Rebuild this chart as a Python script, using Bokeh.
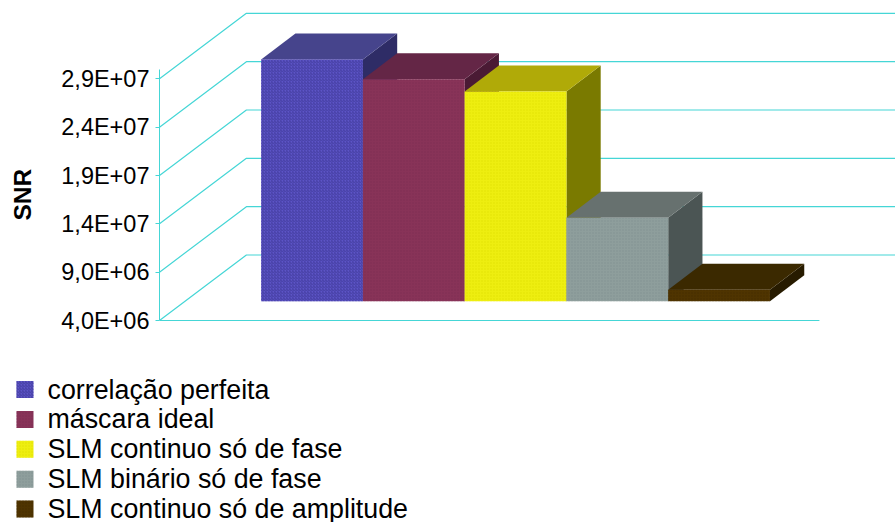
from bokeh.embed import file_html
from bokeh.layouts import column, row
from bokeh.models import ColumnDataSource, FixedTicker, LinearAxis, Range1d, Title
from bokeh.core.properties import value
from bokeh.plotting import figure
from bokeh.resources import INLINE

# Series shown as 3-D columns
series = ["correlação perfeita", "máscara ideal", "SLM continuo só de fase",
          "SLM binário só de fase", "SLM continuo só de amplitude"]
snr = [2.9e7, 2.697e7, 2.57e7, 1.263e7, 5.18e6]
front_colors = ["#5c54c6", "#883358", "#eeee10", "#8e9e9c", "#4f3400"]
top_colors = ["#46448c", "#642646", "#b0aa08", "#67716f", "#3b2900"]
side_colors = ["#2e2c66", "#4a1a34", "#7a7a00", "#4b5554", "#271b00"]
hatch_colors = ["#40389a", "#7a2a50", "#e0e000", "#7f8f8d", "#402a00"]
hatch_patterns = ["right_diagonal_line", "dot", "dot", "dot", "dot"]

tick_values = [4e6, 9e6, 1.4e7, 1.9e7, 2.4e7, 2.9e7]
tick_labels = ["4,0E+06", "9,0E+06", "1,4E+07", "1,9E+07", "2,4E+07", "2,9E+07"]

# Scale of the value axis and the oblique projection, in data units
PX_PER_SLOT = 101.9
PX_PER_VALUE = 48.33 / 5e6
WALL_DX, WALL_DY = 87 / PX_PER_SLOT, 65.5 / PX_PER_VALUE
BAR_DX, BAR_DY = 34.3 / PX_PER_SLOT, 26 / PX_PER_VALUE
FLOOR_LIFT = 19.3 / PX_PER_VALUE
AXIS_X = -101.8 / PX_PER_SLOT
FLOOR_END = 559 / PX_PER_SLOT
GRID = "#45d6d6"

CHART_H = 378
LEGEND_H = 522 - CHART_H
y_base = tick_values[0] - (CHART_H - 320) / PX_PER_VALUE

p = figure(width=895, height=CHART_H, output_backend="svg", toolbar_location=None,
           x_range=Range1d(AXIS_X, AXIS_X + 737 / PX_PER_SLOT),
           y_range=Range1d(y_base, y_base + CHART_H / PX_PER_VALUE),
           min_border_left=158, min_border_right=0, min_border_top=0,
           min_border_bottom=0, outline_line_color=None,
           background_fill_color="white", border_fill_color="white",
           x_axis_location=None, y_axis_location=None)
p.xgrid.visible = False
p.ygrid.visible = False

# Value axis
axis = LinearAxis(ticker=FixedTicker(ticks=tick_values),
                  major_label_overrides=dict(zip(tick_values, tick_labels)),
                  bounds=(tick_values[0], tick_values[-1] + 9 / PX_PER_VALUE),
                  major_label_text_font="Liberation Sans", major_label_text_font_size="23.5px",
                  major_label_text_color="black", major_label_standoff=6,
                  axis_line_color=GRID, major_tick_line_color=GRID,
                  major_tick_out=4, major_tick_in=0, minor_tick_line_color=None)
p.add_layout(axis, "left")

# A blank title holds the gap between the tick labels and the axis title
p.add_layout(Title(text=" ", standoff=4, text_font="Liberation Sans", text_font_size="10px"), "left")

# Axis title, placed along the left edge by its distance from the bottom
p.add_layout(Title(text="SNR", align="left", offset=158, standoff=12,
                   text_font="Liberation Sans", text_font_style="bold",
                   text_font_size="24.5px", text_color="black"), "left")

# Side wall and back wall rules, then the front edge of the floor
wall_xs = [[AXIS_X, AXIS_X + WALL_DX, AXIS_X + WALL_DX + FLOOR_END - AXIS_X] for _ in tick_values]
wall_ys = [[v, v + WALL_DY, v + WALL_DY] for v in tick_values]
p.multi_line(wall_xs, wall_ys, line_color=GRID, line_width=1.2)
p.line([AXIS_X, FLOOR_END], [tick_values[0], tick_values[0]], line_color=GRID, line_width=1.2)

# Columns: side face, top face, front face
floor = tick_values[0] + FLOOR_LIFT
for i, name in enumerate(series):
    top = snr[i] + FLOOR_LIFT
    p.patch([i + 1, i + 1 + BAR_DX, i + 1 + BAR_DX, i + 1],
            [floor, floor + BAR_DY, top + BAR_DY, top], fill_color=side_colors[i], line_color=None)
    p.patch([i, i + BAR_DX, i + 1 + BAR_DX, i + 1],
            [top, top + BAR_DY, top + BAR_DY, top], fill_color=top_colors[i], line_color=None)
    src = ColumnDataSource(dict(left=[i], right=[i + 1], bottom=[floor], top=[top]))
    p.quad(left="left", right="right", bottom="bottom", top="top", source=src,
           fill_color=front_colors[i], line_color=None,
           hatch_pattern=hatch_patterns[i], hatch_color=hatch_colors[i],
           hatch_scale=3, hatch_weight=1, hatch_alpha=0.8)

# Legend strip under the chart, laid out in page pixels
ROW_STEP = 29.9
FIRST_ROW = 389 - CHART_H
SWATCH = 17
SWATCH_LEFT = 16
LABEL_LEFT = 47

lg = figure(width=895, height=LEGEND_H, output_backend="svg", toolbar_location=None,
            x_range=Range1d(0, 895), y_range=Range1d(LEGEND_H, 0),
            min_border_left=0, min_border_right=0, min_border_top=0, min_border_bottom=0,
            outline_line_color=None, x_axis_location=None, y_axis_location=None)
lg.xgrid.visible = False
lg.ygrid.visible = False
rows = [FIRST_ROW + ROW_STEP * k for k in range(len(series))]
lg.quad(left=SWATCH_LEFT, right=SWATCH_LEFT + SWATCH,
        bottom=[r + SWATCH / 2 for r in rows], top=[r - SWATCH / 2 for r in rows],
        fill_color=front_colors, line_color=None,
        hatch_pattern=hatch_patterns, hatch_color=hatch_colors,
        hatch_scale=3, hatch_weight=1, hatch_alpha=0.8)
lg.text(x=LABEL_LEFT, y=rows, text=series, text_baseline="middle",
        text_font=value("Liberation Sans"), text_font_size="26.8px", text_color="black")

# The inner row keeps the strip's plot area independent of the chart's
layout = column(p, row(lg), spacing=0)
open("out.html", "w").write(file_html(layout, INLINE))
